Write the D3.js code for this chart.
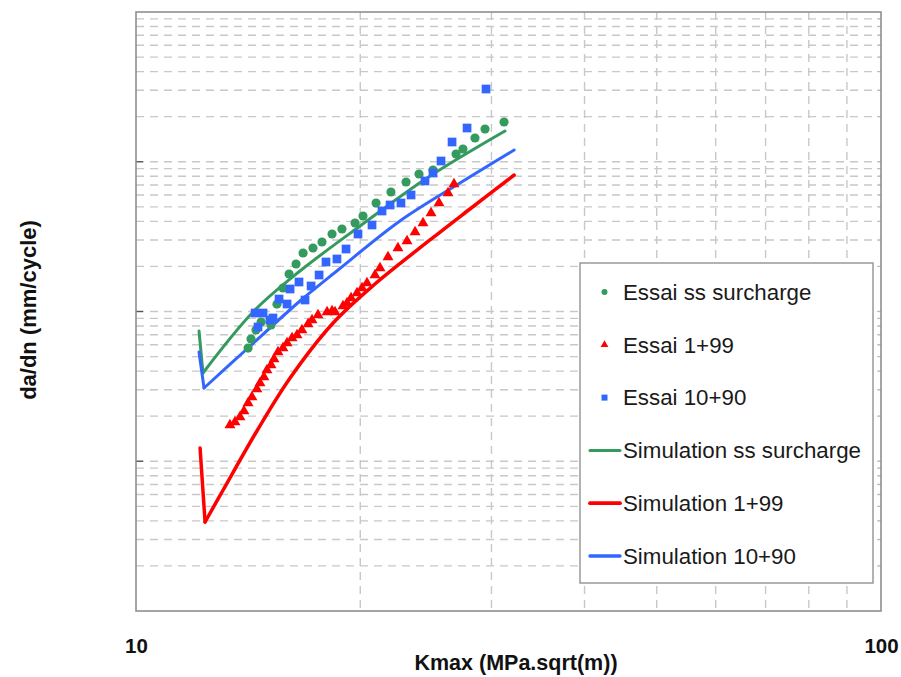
<!DOCTYPE html>
<html>
<head>
<meta charset="utf-8">
<script src="https://cdn.jsdelivr.net/npm/d3@7"></script>
<style>
  html, body { margin: 0; padding: 0; background: #ffffff; }
  svg { display: block; font-family: "Liberation Sans", Arial, sans-serif; }
</style>
</head>
<body>
<svg id="chart" width="901" height="677"></svg>
<script>
// ---------- data (Kmax in MPa.sqrt(m), da/dn in mm/cycle) ----------
const essaiSSx = [14.14,14.27,14.49,14.72,15.18,15.46,15.75,16.05,16.40,16.76,17.28,17.77,18.33,18.90,19.68,20.17,21.00,21.99,23.04,23.98,25.04,26.89,27.47,28.51,29.41,31.19];
const essaiSSy = [5.70e-5,6.55e-5,7.52e-5,8.51e-5,8.13e-5,1.12e-4,1.436e-4,1.78e-4,2.077e-4,2.458e-4,2.655e-4,2.912e-4,3.293e-4,3.556e-4,3.899e-4,4.342e-4,5.304e-4,6.281e-4,7.324e-4,8.284e-4,8.81e-4,1.1265e-3,1.2166e-3,1.4408e-3,1.6545e-3,1.8428e-3];

const essai1x = [13.37,13.58,13.79,13.96,14.14,14.31,14.53,14.67,14.85,14.99,15.18,15.32,15.51,15.75,15.95,16.20,16.45,16.70,17.02,17.23,17.55,18.05,18.33,18.50,18.96,19.20,19.44,19.80,20.11,20.42,20.93,21.26,21.79,22.47,23.11,23.69,24.28,24.89,25.51,26.23,26.72];
const essai1y = [1.746e-5,1.829e-5,1.975e-5,2.166e-5,2.449e-5,2.686e-5,3.037e-5,3.331e-5,3.653e-5,4.068e-5,4.393e-5,4.818e-5,5.364e-5,5.705e-5,6.161e-5,6.653e-5,6.967e-5,7.522e-5,8.252e-5,8.775e-5,9.476e-5,9.923e-5,1.0077e-4,9.923e-5,1.088e-4,1.1396e-4,1.2306e-4,1.3289e-4,1.4355e-4,1.55e-4,1.7528e-4,1.9523e-4,2.3118e-4,2.655e-4,2.9568e-4,3.396e-4,3.899e-4,4.547e-4,5.304e-4,6.185e-4,7.101e-4];

const essai10x = [14.45,14.81,14.58,15.13,15.27,15.56,15.95,16.10,16.55,16.86,17.18,17.61,17.99,18.61,19.14,19.86,20.74,21.39,21.93,22.68,23.40,24.43,25.04,25.67,26.56,27.82,29.50];
const essai10y = [9.772e-5,9.772e-5,7.88e-5,8.775e-5,9.049e-5,1.2117e-4,1.122e-4,1.4136e-4,1.574e-4,1.1933e-4,1.4803e-4,1.7528e-4,2.1413e-4,2.2423e-4,2.6146e-4,3.293e-4,3.781e-4,4.689e-4,5.143e-4,5.304e-4,5.998e-4,7.437e-4,8.412e-4,1.0116e-3,1.3547e-3,1.68e-3,3.061e-3];

const simSSx = [12.15,12.30,14.40,16.60,19.99,24.58,31.28];
const simSSy = [7.408e-5,3.885e-5,1.0077e-4,1.8638e-4,3.724e-4,7.788e-4,1.6045e-3];

const sim1x = [12.19,12.38,13.09,14.53,16.10,18.39,20.93,24.81,28.07,32.18];
const sim1y = [1.2259e-5,3.929e-6,6.427e-6,1.5922e-5,3.597e-5,8.38e-5,1.5264e-4,3.003e-4,4.836e-4,8.157e-4];

const sim10x = [12.15,12.34,14.09,16.60,18.67,22.61,27.22,32.18];
const sim10y = [5.364e-5,3.084e-5,5.618e-5,1.1751e-4,1.8928e-4,4.021e-4,7.211e-4,1.198e-3];

const xTickLabels = [10, 100];
const xGridValues = [20, 30, 40, 50, 60, 70, 80, 90];
const yDecades = [1e-6, 1e-5, 1e-4, 1e-3, 1e-2];

const legendLabels = ["Essai ss surcharge", "Essai 1+99", "Essai 10+90",
                      "Simulation ss surcharge", "Simulation 1+99", "Simulation 10+90"];
const xTitle = "Kmax (MPa.sqrt(m))";
const yTitle = "da/dn (mm/cycle)";

// ---------- styling ----------
const GREEN = "#349a5e", RED = "#ff0000", BLUE = "#3366ff";
const GRID = "#c8c8c8";

const svg = d3.select("#chart");
const L = 136, R = 881, T = 12, B = 611;

const x = d3.scaleLog().domain([10, 100]).range([L, R]);
const y = d3.scaleLog().domain([1e-6, 1e-2]).range([B, T]);

// minor y values
const yMinor = [];
yDecades.slice(0, -1).forEach(d => { for (let m = 1; m <= 9; m++) yMinor.push(d * m); });

// horizontal dashed grid
svg.append("g").selectAll("line")
  .data(yMinor.filter(v => v > 1e-6))
  .join("line")
  .attr("x1", L).attr("x2", R)
  .attr("y1", d => y(d)).attr("y2", d => y(d))
  .attr("stroke", GRID).attr("stroke-width", 1.4)
  .attr("stroke-dasharray", "8,6");

// vertical dashed grid
svg.append("g").selectAll("line")
  .data(xGridValues)
  .join("line")
  .attr("x1", d => x(d)).attr("x2", d => x(d))
  .attr("y1", T).attr("y2", B)
  .attr("stroke", GRID).attr("stroke-width", 1.4)
  .attr("stroke-dasharray", "8,6");

// left decade ticks (inside)
svg.append("g").selectAll("line")
  .data(yDecades.slice(1, -1))
  .join("line")
  .attr("x1", L).attr("x2", L + 7)
  .attr("y1", d => y(d)).attr("y2", d => y(d))
  .attr("stroke", "#555").attr("stroke-width", 1.3);

// right minor ticks (inside)
svg.append("g").selectAll("line")
  .data(yMinor.filter(v => v > 1e-6))
  .join("line")
  .attr("x1", R - 4).attr("x2", R)
  .attr("y1", d => y(d)).attr("y2", d => y(d))
  .attr("stroke", "#bbb").attr("stroke-width", 1);

// plot frame
svg.append("rect")
  .attr("x", L).attr("y", T).attr("width", R - L).attr("height", B - T)
  .attr("fill", "none").attr("stroke", "#8f8f8f").attr("stroke-width", 1.6);

// x axis labels via d3 axis
const xAxis = d3.axisBottom(x).tickValues(xTickLabels).tickFormat(d3.format("d"))
  .tickSize(0).tickPadding(27);
const gx = svg.append("g").attr("transform", `translate(0,${B})`).call(xAxis);
gx.select(".domain").remove();
gx.selectAll("text").attr("font-family", "'Liberation Sans', Arial, sans-serif")
  .attr("font-size", 20.5).attr("font-weight", "bold").attr("fill", "#111");

// axis titles
svg.append("text").attr("x", 516).attr("y", 670)
  .attr("text-anchor", "middle").attr("font-size", 21.5).attr("font-weight", "bold")
  .attr("fill", "#111").text(xTitle);
svg.append("text").attr("transform", "translate(36,310) rotate(-90)")
  .attr("text-anchor", "middle").attr("font-size", 22).attr("font-weight", "bold")
  .attr("fill", "#111").text(yTitle);

// simulation lines: initial drop drawn straight, rising branch smooth
const lineStraight = d3.line().x(d => x(d[0])).y(d => y(d[1]));
const lineSmooth = d3.line().x(d => x(d[0])).y(d => y(d[1])).curve(d3.curveCatmullRom.alpha(0.5));
const sims = [
  { xs: simSSx, ys: simSSy, color: GREEN, w: 3 },
  { xs: sim1x, ys: sim1y, color: RED, w: 3.5 },
  { xs: sim10x, ys: sim10y, color: BLUE, w: 3 }
];
sims.forEach(s => {
  const pts = s.xs.map((v, i) => [v, s.ys[i]]);
  const g = svg.append("g").attr("fill", "none").attr("stroke", s.color)
    .attr("stroke-width", s.w).attr("stroke-linejoin", "round").attr("stroke-linecap", "round");
  g.append("path").datum(pts.slice(0, 2)).attr("d", lineStraight);
  g.append("path").datum(pts.slice(1)).attr("d", lineSmooth);
});

// markers
const circ = d3.symbol().type(d3.symbolCircle).size(66);
const tri = d3.symbol().type(d3.symbolTriangle).size(52);
const sq = d3.symbol().type(d3.symbolSquare).size(76);

svg.append("g").selectAll("path")
  .data(essai1x.map((v, i) => [v, essai1y[i]]))
  .join("path").attr("d", tri)
  .attr("transform", d => `translate(${x(d[0])},${y(d[1])})`)
  .attr("fill", RED);
svg.append("g").selectAll("path")
  .data(essaiSSx.map((v, i) => [v, essaiSSy[i]]))
  .join("path").attr("d", circ)
  .attr("transform", d => `translate(${x(d[0])},${y(d[1])})`)
  .attr("fill", GREEN);
svg.append("g").selectAll("path")
  .data(essai10x.map((v, i) => [v, essai10y[i]]))
  .join("path").attr("d", sq)
  .attr("transform", d => `translate(${x(d[0])},${y(d[1])})`)
  .attr("fill", BLUE);

// legend
const lg = svg.append("g");
lg.append("rect").attr("x", 580).attr("y", 263).attr("width", 293).attr("height", 320)
  .attr("fill", "#fff").attr("stroke", "#999").attr("stroke-width", 1.5);
const rowY = i => 292 + i * 52.8;
const legendMarkers = [
  { kind: "sym", sym: d3.symbol().type(d3.symbolCircle).size(28), color: GREEN },
  { kind: "sym", sym: d3.symbol().type(d3.symbolTriangle).size(26), color: RED },
  { kind: "sym", sym: d3.symbol().type(d3.symbolSquare).size(36), color: BLUE },
  { kind: "line", color: GREEN, w: 3 },
  { kind: "line", color: RED, w: 3.8 },
  { kind: "line", color: BLUE, w: 3.4 }
];
legendLabels.forEach((lab, i) => {
  const m = legendMarkers[i];
  const cy = rowY(i);
  if (m.kind === "sym") {
    lg.append("path").attr("d", m.sym).attr("transform", `translate(604.5,${cy})`).attr("fill", m.color);
  } else {
    lg.append("line").attr("x1", 590).attr("x2", 620).attr("y1", cy).attr("y2", cy)
      .attr("stroke", m.color).attr("stroke-width", m.w).attr("stroke-linecap", "round");
  }
  lg.append("text").attr("x", 623).attr("y", cy + 7.8)
    .attr("font-size", 22.3).attr("fill", "#1a1a1a").text(lab);
});
</script>
</body>
</html>
